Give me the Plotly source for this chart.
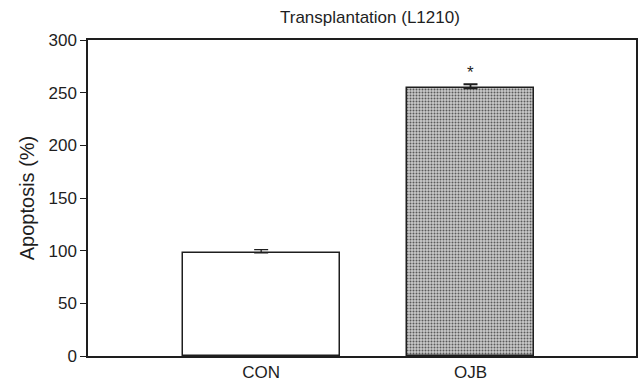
import plotly.graph_objects as go

categories = ["CON", "OJB"]
values = [98, 254]
errors = [3, 4]
significance = ["", "*"]

# layout positions / widths (x-axis units, range 0..10)
x_pos = [3.16, 6.98]
widths = [2.86, 2.32]

font = "Liberation Sans, Arial, sans-serif"
ink = "#1e1e1e"

fig = go.Figure()
fig.add_trace(go.Bar(
    x=[x_pos[0]], y=[values[0]], width=[widths[0]],
    marker=dict(color="white", line=dict(color=ink, width=1.5)),
    error_y=dict(type="data", array=[errors[0]], arrayminus=[0], symmetric=False, visible=True,
                 color=ink, thickness=1.3, width=7),
    showlegend=False,
))
fig.add_trace(go.Bar(
    x=[x_pos[1]], y=[values[1]], width=[widths[1]],
    marker=dict(color="#b8b8b8", line=dict(color=ink, width=1.5),
                pattern=dict(shape=".", fgcolor="#5a5a5a", bgcolor="#cacaca", size=3, solidity=0.35, fillmode="replace")),
    error_y=dict(type="data", array=[errors[1]], arrayminus=[0], symmetric=False, visible=True,
                 color=ink, thickness=1.8, width=7),
    showlegend=False,
))
for i, s in enumerate(significance):
    if s:
        fig.add_annotation(x=x_pos[i], y=values[i] + errors[i], text=s, showarrow=False,
                           yanchor="bottom", yshift=0, font=dict(size=17, color=ink, family=font))

fig.update_layout(
    width=640, height=389,
    margin=dict(l=88, r=4, t=40, b=33, autoexpand=False),
    paper_bgcolor="white", plot_bgcolor="white",
    title=dict(text="Transplantation (L1210)", x=0.578, xanchor="center", y=0.955, yanchor="middle",
               font=dict(size=17, color=ink, family=font)),
    font=dict(family=font, color=ink),
    bargap=0,
)
fig.update_xaxes(range=[0, 10], tickvals=x_pos, ticktext=categories, showgrid=False, zeroline=False,
                 showline=True, linecolor=ink, linewidth=1.5, mirror=True, ticks="", automargin=False,
                 tickfont=dict(size=17, color=ink))
fig.update_yaxes(range=[0, 300], tickvals=[0, 50, 100, 150, 200, 250, 300], showgrid=False, zeroline=False,
                 showline=True, linecolor=ink, linewidth=1.5, mirror=True, ticks="outside", ticklen=6,
                 tickcolor=ink, tickfont=dict(size=17, color=ink), automargin=False,
                 title=dict(text="Apoptosis (%)", font=dict(size=20, color=ink), standoff=8))

fig.write_html("out.html", config={"displayModeBar": False},
               post_script="document.body.style.margin='0';document.body.style.overflow='hidden';")
